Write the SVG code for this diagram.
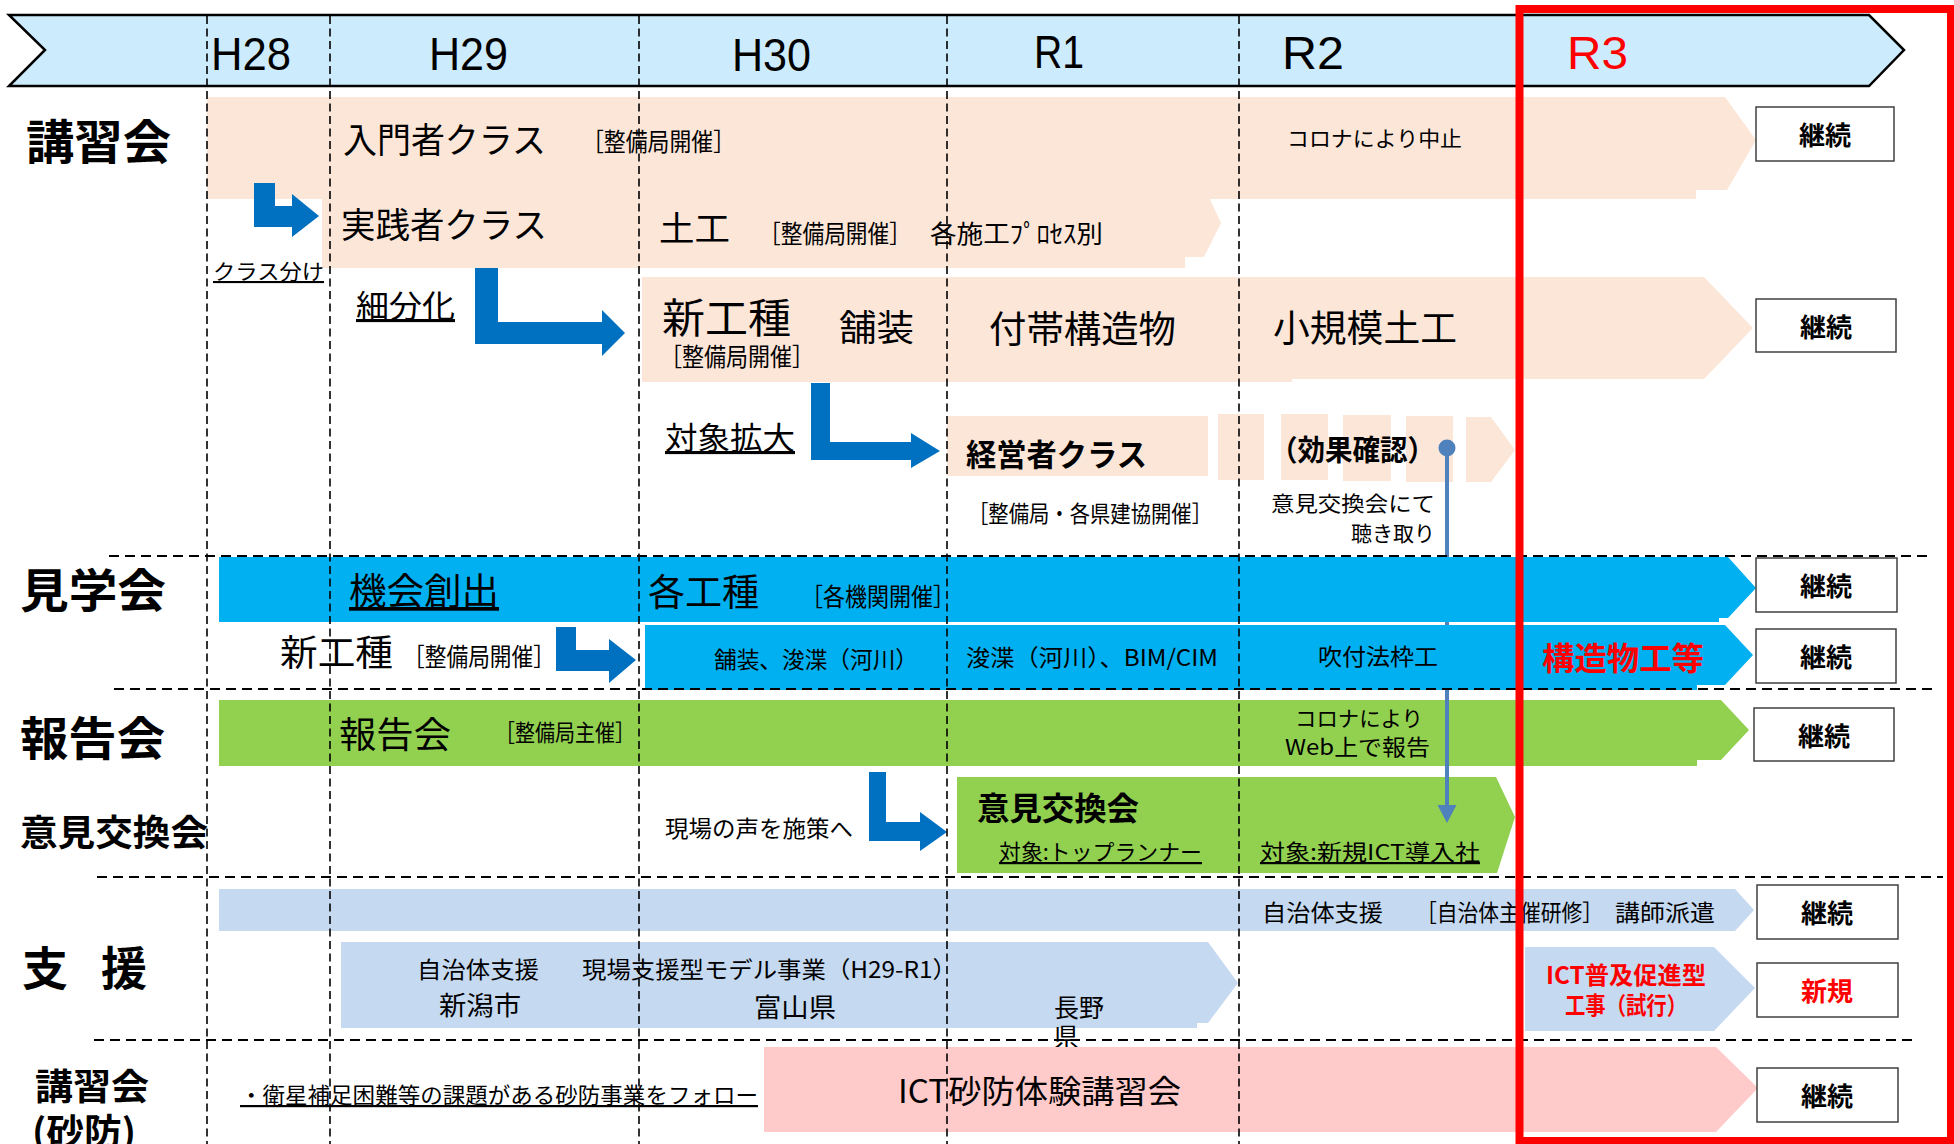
<svg xmlns="http://www.w3.org/2000/svg" width="1954" height="1144" viewBox="0 0 1954 1144">
<style>
.j{font-family:'Noto Sans CJK JP','Noto Sans CJK SC',sans-serif;fill:#000}
.l{font-family:'Liberation Sans',Arial,sans-serif;fill:#000}
.b{font-weight:bold}
.r{fill:#FF0000}
.u{text-decoration:underline}
.peach{fill:#FCE6D8}
.cyan{fill:#00B0F0}
.green{fill:#92D050}
.lblue{fill:#C5D9F1}
.pink{fill:#FFCACA}
.barrow{fill:#0070C0}
.box{fill:#fff;stroke:#404040;stroke-width:1.5}
.vgrid{stroke:#000;stroke-width:1.6;stroke-dasharray:8 4.5;fill:none}
.hgrid{stroke:#000;stroke-width:2;stroke-dasharray:10 6;fill:none}
.bx{font-size:26px;text-anchor:middle}
</style>
<defs>
<marker id="ah" markerUnits="userSpaceOnUse" markerWidth="20" markerHeight="20" viewBox="0 0 20 20" refX="0" refY="10" orient="auto">
<path d="M0,0.5 L18,10 L0,19.5 z" fill="#4F81BD"/>
</marker>
</defs>
<rect width="1954" height="1144" fill="#fff"/>

<g id="header">
<polygon points="9,15 1869,15 1904,50 1869,86 9,86 45,50" fill="#CCEBFD" stroke="#000" stroke-width="2.5"/>
<text class="l" x="211" y="70" font-size="46" textLength="80" lengthAdjust="spacingAndGlyphs">H28</text>
<text class="l" x="429" y="70" font-size="46" textLength="79" lengthAdjust="spacingAndGlyphs">H29</text>
<text class="l" x="732" y="71" font-size="46" textLength="79" lengthAdjust="spacingAndGlyphs">H30</text>
<text class="l" x="1034" y="68" font-size="46" textLength="50" lengthAdjust="spacingAndGlyphs">R1</text>
<text class="l" x="1282" y="69" font-size="46" textLength="62" lengthAdjust="spacingAndGlyphs">R2</text>
<text class="l r" x="1567" y="69" font-size="46" textLength="61" lengthAdjust="spacingAndGlyphs">R3</text>
</g>

<g id="n-nyumon">
<polygon class="peach" points="207,97 1725,97 1756,140 1727,190 1696,190 1696,199 207,199"/>
<text class="j" x="343" y="153" font-size="35" textLength="203" lengthAdjust="spacingAndGlyphs">入門者クラス</text>
<text class="j" x="582" y="151" font-size="25" textLength="153" lengthAdjust="spacingAndGlyphs">［整備局開催］</text>
<text class="j" x="1287" y="146" font-size="21" textLength="175" lengthAdjust="spacingAndGlyphs">コロナにより中止</text>
</g>
<g id="n-jissen">
<polygon class="peach" points="322,195 1208,195 1221,223 1204,257 1185,257 1185,268 322,268"/>
<text class="j" x="341" y="238" font-size="35" textLength="206" lengthAdjust="spacingAndGlyphs">実践者クラス</text>
<text class="j" x="659" y="241" font-size="34" textLength="71" lengthAdjust="spacingAndGlyphs">土工</text>
<text class="j" x="759" y="243" font-size="25" textLength="152" lengthAdjust="spacingAndGlyphs">［整備局開催］</text>
<text class="j" x="930" y="243" font-size="25" textLength="173" lengthAdjust="spacingAndGlyphs">各施工ﾌﾟﾛｾｽ別</text>
</g>
<g id="n-shinkoshu">
<polygon class="peach" points="642,277 1704,277 1753,328 1704,379 1292,379 1292,382 642,382"/>
<text class="j" x="662" y="333" font-size="41" textLength="129" lengthAdjust="spacingAndGlyphs">新工種</text>
<text class="j" x="660" y="366" font-size="25" textLength="154" lengthAdjust="spacingAndGlyphs">［整備局開催］</text>
<text class="j" x="839" y="341" font-size="36" textLength="75" lengthAdjust="spacingAndGlyphs">舗装</text>
<text class="j" x="989" y="343" font-size="37" textLength="187" lengthAdjust="spacingAndGlyphs">付帯構造物</text>
<text class="j" x="1273" y="342" font-size="37" textLength="184" lengthAdjust="spacingAndGlyphs">小規模土工</text>
</g>
<g id="n-keiei">
<rect class="peach" x="947" y="416" width="261" height="60"/>
<rect class="peach" x="1218" y="414" width="46" height="66"/>
<rect class="peach" x="1281" y="414" width="47" height="66"/>
<rect class="peach" x="1343" y="415" width="48" height="66"/>
<rect class="peach" x="1406" y="416" width="47" height="66"/>
<polygon class="peach" points="1466,417 1491,417 1515,450 1491,482 1466,482"/>
<text class="j b" x="966" y="466" font-size="31" textLength="181" lengthAdjust="spacingAndGlyphs">経営者クラス</text>
<text class="j" x="968" y="522" font-size="23" textLength="244" lengthAdjust="spacingAndGlyphs">［整備局・各県建協開催］</text>
<text class="j b" x="1270" y="461" font-size="29" textLength="165" lengthAdjust="spacingAndGlyphs">（効果確認）</text>
<text class="j" x="1435" y="511" font-size="21" text-anchor="end" textLength="164" lengthAdjust="spacingAndGlyphs">意見交換会にて</text>
<text class="j" x="1435" y="541" font-size="21" text-anchor="end" textLength="84" lengthAdjust="spacingAndGlyphs">聴き取り</text>
</g>

<g id="n-houkoku">
<polygon class="green" points="219,700 1721,700 1749,730 1721,760 1697,760 1697,766 219,766"/>
<text class="j" x="339" y="748" font-size="36" textLength="112" lengthAdjust="spacingAndGlyphs">報告会</text>
<text class="j" x="495" y="741" font-size="23" textLength="140" lengthAdjust="spacingAndGlyphs">［整備局主催］</text>
<text class="j" x="1295" y="726" font-size="21" textLength="128" lengthAdjust="spacingAndGlyphs">コロナにより</text>
<text class="j" x="1285" y="755" font-size="22" textLength="145" lengthAdjust="spacingAndGlyphs">Web上で報告</text>
</g>
<g id="n-iken">
<polygon class="green" points="957,777 1496,777 1515,817 1497,873 957,873"/>
<text class="j b" x="977" y="820" font-size="32" textLength="162" lengthAdjust="spacingAndGlyphs">意見交換会</text>
<text class="j u" x="999" y="860" font-size="22" textLength="203" lengthAdjust="spacingAndGlyphs">対象:トップランナー</text>
<text class="j u" x="1260" y="860" font-size="22" textLength="220" lengthAdjust="spacingAndGlyphs">対象:新規ICT導入社</text>
</g>

<g id="n-shien1">
<polygon class="lblue" points="219,889 1735,889 1754,910 1735,931 219,931"/>
<text class="j" x="1262" y="921" font-size="23" textLength="121" lengthAdjust="spacingAndGlyphs">自治体支援</text>
<text class="j" x="1416" y="921" font-size="23" textLength="187" lengthAdjust="spacingAndGlyphs">［自治体主催研修］</text>
<text class="j" x="1615" y="921" font-size="23" textLength="100" lengthAdjust="spacingAndGlyphs">講師派遣</text>
</g>
<g id="n-shien2">
<polygon class="lblue" points="341,942 1208,942 1238,983 1208,1023 1197,1023 1197,1028 341,1028"/>
<text class="j" x="417" y="978" font-size="23" textLength="122" lengthAdjust="spacingAndGlyphs">自治体支援</text>
<text class="j" x="582" y="978" font-size="23" textLength="375" lengthAdjust="spacingAndGlyphs">現場支援型モデル事業（H29-R1）</text>
<text class="j" x="439" y="1015" font-size="26" textLength="82" lengthAdjust="spacingAndGlyphs">新潟市</text>
<text class="j" x="754" y="1017" font-size="26" textLength="82" lengthAdjust="spacingAndGlyphs">富山県</text>
<text class="j" x="1054" y="1017" font-size="25">長野<tspan x="1054" y="1046">県</tspan></text>
</g>
<g id="n-ict">
<polygon class="lblue" points="1525,947 1714,947 1755,988 1714,1031 1525,1031"/>
<text class="j b r" x="1546" y="984" font-size="24" textLength="160" lengthAdjust="spacingAndGlyphs">ICT普及促進型</text>
<text class="j b r" x="1565" y="1014" font-size="24" textLength="122" lengthAdjust="spacingAndGlyphs">工事（試行）</text>
</g>
<g id="n-sabo">
<polygon class="pink" points="764,1047 1716,1047 1758,1088 1716,1132 764,1132"/>
<text class="j" x="898" y="1103" font-size="32" textLength="283" lengthAdjust="spacingAndGlyphs">ICT砂防体験講習会</text>
</g>

<g id="connectors">
<polygon class="barrow" points="254,183 275,183 275,206 292,206 292,194 319,216 292,237 292,227 254,227"/>
<polygon class="barrow" points="475,268 498,268 498,322 602,322 602,310 625,333 602,356 602,344 475,344"/>
<polygon class="barrow" points="811,383 830,383 830,442 911,442 911,433 940,451 911,468 911,460 811,460"/>
<polygon class="barrow" points="556,627 576,627 576,650 609,650 609,639 636,660 609,683 609,671 556,671"/>
<polygon class="barrow" points="869,772 886,772 886,822 920,822 920,812 947,832 920,851 920,841 869,841"/>
<circle cx="1447" cy="448" r="8.5" fill="#4F81BD"/>
<line x1="1447" y1="448" x2="1447" y2="805" stroke="#4F81BD" stroke-width="4" marker-end="url(#ah)"/>
</g>

<g id="n-kengaku1">
<polygon class="cyan" points="219,557 1728,557 1756,588 1728,618 1719,618 1719,622 219,622"/>
<text class="j u" x="349" y="605" font-size="37" textLength="150" lengthAdjust="spacingAndGlyphs">機会創出</text>
<text class="j" x="648" y="606" font-size="37" textLength="111" lengthAdjust="spacingAndGlyphs">各工種</text>
<text class="j" x="801" y="606" font-size="25" textLength="154" lengthAdjust="spacingAndGlyphs">［各機関開催］</text>
</g>
<g id="n-kengaku2">
<polygon class="cyan" points="645,625 1725,625 1753,655 1725,685 1697,685 1697,690 645,690"/>
<text class="j" x="714" y="668" font-size="23" textLength="204" lengthAdjust="spacingAndGlyphs">舗装、浚渫（河川）</text>
<text class="j" x="966" y="666" font-size="23" textLength="252" lengthAdjust="spacingAndGlyphs">浚渫（河川）、BIM/CIM</text>
<text class="j" x="1318" y="665" font-size="23" textLength="120" lengthAdjust="spacingAndGlyphs">吹付法枠工</text>
<text class="j b r" x="1542" y="670" font-size="32" textLength="162" lengthAdjust="spacingAndGlyphs">構造物工等</text>
</g>

<g id="labels">
<text class="j b" x="26" y="159" font-size="47" textLength="145" lengthAdjust="spacingAndGlyphs">講習会</text>
<text class="j b" x="20" y="607" font-size="46" textLength="146" lengthAdjust="spacingAndGlyphs">見学会</text>
<text class="j b" x="20" y="755" font-size="46" textLength="145" lengthAdjust="spacingAndGlyphs">報告会</text>
<text class="j b" x="20" y="846" font-size="36" textLength="188" lengthAdjust="spacingAndGlyphs">意見交換会</text>
<text class="j b" x="22" y="985" font-size="46">支<tspan x="101">援</tspan></text>
<text class="j b" x="35" y="1100" font-size="36" textLength="114" lengthAdjust="spacingAndGlyphs">講習会</text>
<text class="j b" x="32" y="1145" font-size="36" textLength="104" lengthAdjust="spacingAndGlyphs">(砂防)</text>
<text class="j u" x="213" y="279" font-size="21" textLength="111" lengthAdjust="spacingAndGlyphs">クラス分け</text>
<text class="j u" x="356" y="317" font-size="31" textLength="99" lengthAdjust="spacingAndGlyphs">細分化</text>
<text class="j u" x="665" y="449" font-size="31" textLength="130" lengthAdjust="spacingAndGlyphs">対象拡大</text>
<text class="j" x="280" y="666" font-size="36" textLength="113" lengthAdjust="spacingAndGlyphs">新工種</text>
<text class="j" x="403" y="666" font-size="25" textLength="152" lengthAdjust="spacingAndGlyphs">［整備局開催］</text>
<text class="j" x="665" y="837" font-size="23" textLength="188" lengthAdjust="spacingAndGlyphs">現場の声を施策へ</text>
<text class="j u" x="240" y="1103" font-size="22" textLength="518" lengthAdjust="spacingAndGlyphs">・衛星補足困難等の課題がある砂防事業をフォロー</text>
</g>

<g id="boxes">
<g id="b1"><rect class="box" x="1756" y="107" width="138" height="54"/><text class="j b bx" x="1825" y="145">継続</text></g>
<g id="b2"><rect class="box" x="1756" y="299" width="140" height="53"/><text class="j b bx" x="1826" y="337">継続</text></g>
<g id="b3"><rect class="box" x="1756" y="558" width="141" height="54"/><text class="j b bx" x="1826" y="596">継続</text></g>
<g id="b4"><rect class="box" x="1756" y="629" width="140" height="54"/><text class="j b bx" x="1826" y="667">継続</text></g>
<g id="b5"><rect class="box" x="1754" y="708" width="140" height="53"/><text class="j b bx" x="1824" y="746">継続</text></g>
<g id="b6"><rect class="box" x="1757" y="885" width="141" height="54"/><text class="j b bx" x="1827" y="923">継続</text></g>
<g id="b7"><rect class="box" x="1757" y="963" width="141" height="54"/><text class="j b bx r" x="1827" y="1001">新規</text></g>
<g id="b8"><rect class="box" x="1757" y="1068" width="141" height="54"/><text class="j b bx" x="1827" y="1106">継続</text></g>
</g>

<g id="grid">
<line class="vgrid" x1="207" y1="16" x2="207" y2="1144"/>
<line class="vgrid" x1="330" y1="16" x2="330" y2="1144"/>
<line class="vgrid" x1="639" y1="16" x2="639" y2="1144"/>
<line class="vgrid" x1="947" y1="16" x2="947" y2="1144"/>
<line class="vgrid" x1="1239" y1="16" x2="1239" y2="1144"/>
<line class="hgrid" x1="109" y1="556" x2="1933" y2="556"/>
<line class="hgrid" x1="114" y1="689" x2="1937" y2="689"/>
<line class="hgrid" x1="97" y1="877" x2="1943" y2="877"/>
<line class="hgrid" x1="94" y1="1040" x2="1915" y2="1040"/>
</g>

<rect id="r3-frame" x="1519.5" y="9" width="431.5" height="1132" fill="none" stroke="#FF0000" stroke-width="8"/>
</svg>
